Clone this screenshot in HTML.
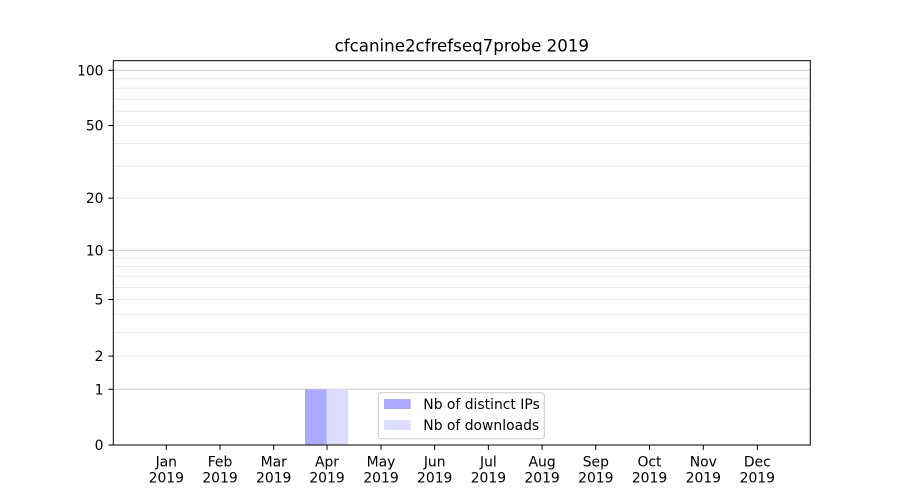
<!DOCTYPE html>
<html><head><meta charset="utf-8"><style>
html,body{margin:0;padding:0;background:#fff;}
svg{display:block;font-family:"DejaVu Sans","Liberation Sans",sans-serif;}
</style></head><body>
<svg width="900" height="500" viewBox="0 0 900 500" xmlns="http://www.w3.org/2000/svg">
<rect width="900" height="500" fill="#fff"/>
<!-- minor grid -->
<g stroke="#ebebeb" stroke-width="1">
<line x1="113.3" x2="810.3" y1="78.8" y2="78.8"/>
<line x1="113.3" x2="810.3" y1="88.3" y2="88.3"/>
<line x1="113.3" x2="810.3" y1="99.2" y2="99.2"/>
<line x1="113.3" x2="810.3" y1="111.3" y2="111.3"/>
<line x1="113.3" x2="810.3" y1="125.5" y2="125.5"/>
<line x1="113.3" x2="810.3" y1="143.5" y2="143.5"/>
<line x1="113.3" x2="810.3" y1="166.3" y2="166.3"/>
<line x1="113.3" x2="810.3" y1="198.2" y2="198.2"/>
<line x1="113.3" x2="810.3" y1="258.2" y2="258.2"/>
<line x1="113.3" x2="810.3" y1="266.5" y2="266.5"/>
<line x1="113.3" x2="810.3" y1="276.2" y2="276.2"/>
<line x1="113.3" x2="810.3" y1="287.5" y2="287.5"/>
<line x1="113.3" x2="810.3" y1="299.5" y2="299.5"/>
<line x1="113.3" x2="810.3" y1="314.4" y2="314.4"/>
<line x1="113.3" x2="810.3" y1="332.4" y2="332.4"/>
<line x1="113.3" x2="810.3" y1="356.1" y2="356.1"/>
</g>
<!-- major grid -->
<g stroke="#cbcbcb" stroke-width="1">
<line x1="113.3" x2="810.3" y1="70.3" y2="70.3"/>
<line x1="113.3" x2="810.3" y1="250.3" y2="250.3"/>
<line x1="113.3" x2="810.3" y1="389.3" y2="389.3"/>
</g>
<!-- bars -->
<rect x="305" y="389.3" width="21.8" height="55.7" fill="#aaaaff"/>
<rect x="326.8" y="389.3" width="21.4" height="55.7" fill="#ddddff"/>
<!-- spines -->
<rect x="113.3" y="60.7" width="697" height="384.3" fill="none" stroke="#000" stroke-width="1"/>
<!-- y ticks -->
<g stroke="#000" stroke-width="1">
<line x1="108.4" x2="113.3" y1="70.3" y2="70.3"/>
<line x1="108.4" x2="113.3" y1="125.5" y2="125.5"/>
<line x1="108.4" x2="113.3" y1="198.2" y2="198.2"/>
<line x1="108.4" x2="113.3" y1="250.3" y2="250.3"/>
<line x1="108.4" x2="113.3" y1="299.5" y2="299.5"/>
<line x1="108.4" x2="113.3" y1="356.1" y2="356.1"/>
<line x1="108.4" x2="113.3" y1="389.3" y2="389.3"/>
<line x1="108.4" x2="113.3" y1="445" y2="445"/>
</g>
<g font-size="13.9" fill="#000" text-anchor="end">
<text x="103.5" y="75.3">100</text>
<text x="103.5" y="130.5">50</text>
<text x="103.5" y="203.2">20</text>
<text x="103.5" y="255.3">10</text>
<text x="103.5" y="304.5">5</text>
<text x="103.5" y="361.1">2</text>
<text x="103.5" y="394.3">1</text>
<text x="103.5" y="450">0</text>
</g>
<!-- x ticks -->
<g stroke="#000" stroke-width="1">
<line x1="166.3" x2="166.3" y1="445" y2="449.9"/>
<line x1="220" x2="220" y1="445" y2="449.9"/>
<line x1="273.7" x2="273.7" y1="445" y2="449.9"/>
<line x1="327" x2="327" y1="445" y2="449.9"/>
<line x1="381" x2="381" y1="445" y2="449.9"/>
<line x1="434.7" x2="434.7" y1="445" y2="449.9"/>
<line x1="488.4" x2="488.4" y1="445" y2="449.9"/>
<line x1="542.1" x2="542.1" y1="445" y2="449.9"/>
<line x1="595.8" x2="595.8" y1="445" y2="449.9"/>
<line x1="649.5" x2="649.5" y1="445" y2="449.9"/>
<line x1="703.3" x2="703.3" y1="445" y2="449.9"/>
<line x1="757.3" x2="757.3" y1="445" y2="449.9"/>
</g>
<g font-size="13.9" fill="#000" text-anchor="middle">
<text x="166.3" y="466.5">Jan</text><text x="166.3" y="482.5">2019</text>
<text x="220" y="466.5">Feb</text><text x="220" y="482.5">2019</text>
<text x="273.7" y="466.5">Mar</text><text x="273.7" y="482.5">2019</text>
<text x="327" y="466.5">Apr</text><text x="327" y="482.5">2019</text>
<text x="381" y="466.5">May</text><text x="381" y="482.5">2019</text>
<text x="434.7" y="466.5">Jun</text><text x="434.7" y="482.5">2019</text>
<text x="488.4" y="466.5">Jul</text><text x="488.4" y="482.5">2019</text>
<text x="542.1" y="466.5">Aug</text><text x="542.1" y="482.5">2019</text>
<text x="595.8" y="466.5">Sep</text><text x="595.8" y="482.5">2019</text>
<text x="649.5" y="466.5">Oct</text><text x="649.5" y="482.5">2019</text>
<text x="703.3" y="466.5">Nov</text><text x="703.3" y="482.5">2019</text>
<text x="757.3" y="466.5">Dec</text><text x="757.3" y="482.5">2019</text>
</g>
<!-- title -->
<text x="461.8" y="51.7" font-size="16.67" text-anchor="middle" fill="#000">cfcanine2cfrefseq7probe 2019</text>
<!-- legend -->
<rect x="378.3" y="392.7" width="166" height="46" rx="2.5" ry="2.5" fill="#fff" fill-opacity="0.8" stroke="#cccccc" stroke-width="1"/>
<rect x="384" y="399" width="26.7" height="10" fill="#aaaaff"/>
<rect x="384" y="420" width="26.7" height="10" fill="#ddddff"/>
<g font-size="13.9" fill="#000">
<text x="423.3" y="409">Nb of distinct IPs</text>
<text x="423.3" y="430">Nb of downloads</text>
</g>
</svg>
</body></html>
